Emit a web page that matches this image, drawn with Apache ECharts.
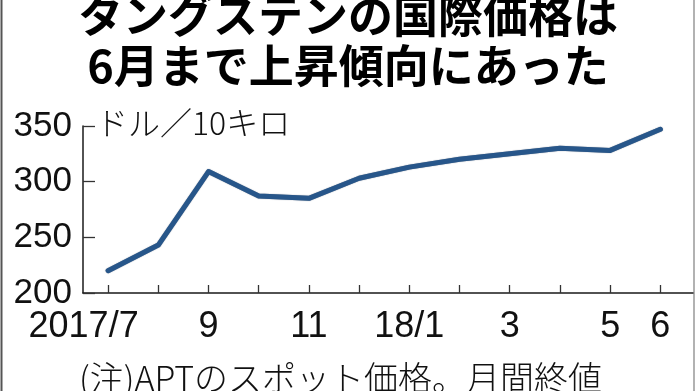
<!DOCTYPE html>
<html>
<head>
<meta charset="utf-8">
<script src="https://cdn.jsdelivr.net/npm/echarts@6/dist/echarts.min.js"></script>
<style>
html,body{margin:0;padding:0;background:#fff;}
#c{width:696px;height:391px;}
</style>
</head>
<body>
<div id="c"></div>
<script>
// Months from 2017/7 to 2018/6 (index 0..11)
var months = ['2017/7','8','9','10','11','12','18/1','2','3','4','5','6'];
// APT spot price, USD per 10 kg, monthly close
var prices = [220, 243, 309, 287, 285, 303, 313, 320, 325, 330, 328, 347];
// Which month indices carry a label
var labelIdx = [0, 2, 4, 6, 8, 10, 11];
var tickIdx = [0,1,2,3,4,5,6,7,8,9,10,11];
var yTicks = [200, 250, 300, 350];
var titleLines = ['タングステンの国際価格は', '6月まで上昇傾向にあった'];
var unitText = 'ドル／10キロ';
var noteText = '(注)APTのスポット価格。月間終値';

var chart = echarts.init(document.getElementById('c'), null, {renderer:'canvas'});
var seriesData = prices.map(function(v, i){ return [i, v]; });

var labelFont = '"Liberation Sans", Arial, sans-serif';

var option = {
  backgroundColor: '#fff',
  animation: false,
  grid: {left: 83, right: 3, top: 125.9, bottom: 98, containLabel: false},
  xAxis: {
    type: 'value',
    min: -0.5,
    max: 11.65,
    axisLine: {show: true, onZero: false, lineStyle: {color: '#1a1a1a', width: 1.5}},
    axisTick: {show: true, inside: true, length: 8, customValues: tickIdx,
               lineStyle: {color: '#333', width: 1.3}},
    axisLabel: {
      show: true, customValues: labelIdx, margin: 16,
      fontFamily: labelFont,
      fontSize: 36, color: '#111',
      formatter: function(v){
        var i = Math.round(v);
        return i === 0 ? '{first|' + months[i] + '}' : months[i];
      },
      rich: {
        first: {fontFamily: labelFont, fontSize: 36, color: '#111', padding: [0, 49, 0, 0]}
      }
    },
    splitLine: {show: false}
  },
  yAxis: {
    type: 'value',
    min: yTicks[0],
    max: yTicks[yTicks.length - 1],
    interval: 50,
    axisLine: {show: true, onZero: false, lineStyle: {color: '#1a1a1a', width: 1.5}},
    axisTick: {show: true, inside: true, length: 12, lineStyle: {color: '#333', width: 1.3}},
    axisLabel: {
      margin: 11,
      fontFamily: labelFont,
      fontSize: 35, color: '#111'
    },
    splitLine: {show: false}
  },
  series: [{
    type: 'line',
    data: seriesData,
    symbol: 'none',
    lineStyle: {color: '#27568a', width: 5, join: 'round', cap: 'round',
                shadowColor: 'rgba(10,30,60,0.6)', shadowBlur: 1}
  }],
  graphic: [
    {type: 'text', left: 'center', top: -7,
     style: {text: titleLines[0], font: 'bold 45px "Noto Sans CJK JP"', fill: '#000'}},
    {type: 'text', left: 'center', top: 43,
     style: {text: titleLines[1], font: 'bold 45px "Noto Sans CJK JP"', fill: '#000'}},
    {type: 'text', left: 96, top: 107,
     style: {text: unitText, font: '300 32px "Noto Sans CJK JP"', fill: '#111'}},
    {type: 'text', left: 79, top: 361,
     style: {text: noteText, font: '300 34px "Noto Sans CJK JP"', fill: '#111'}},
    {type: 'line', shape: {x1: 1.5, y1: 0, x2: 1.5, y2: 391},
     style: {stroke: '#555', lineWidth: 2}},
    {type: 'line', shape: {x1: 694, y1: 0, x2: 694, y2: 391},
     style: {stroke: '#999', lineWidth: 1.5}}
  ]
};
chart.setOption(option);
</script>
</body>
</html>
